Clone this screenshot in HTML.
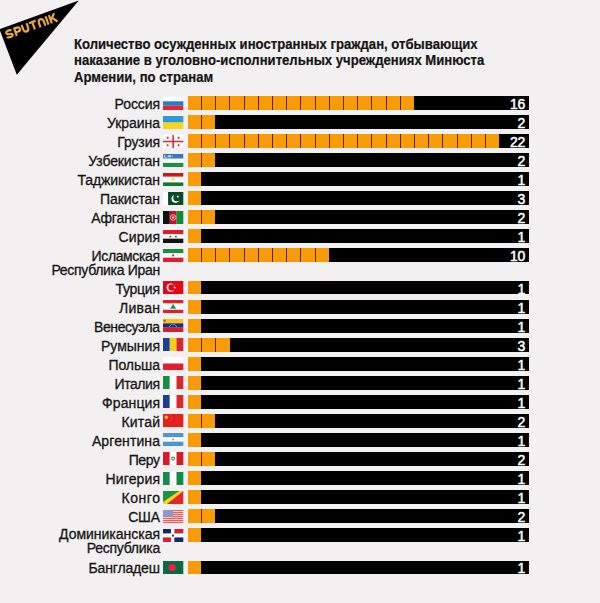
<!DOCTYPE html>
<html><head><meta charset="utf-8"><style>
*{margin:0;padding:0;box-sizing:border-box}
html,body{width:600px;height:603px;overflow:hidden;background:#f2f0f1;font-family:"Liberation Sans",sans-serif}
.logo{position:absolute;left:0;top:0}
.title{position:absolute;left:74px;top:35.6px;-webkit-text-stroke:0.2px #151515;font-weight:bold;font-size:14px;line-height:16.5px;color:#151515;transform:scaleX(0.937);transform-origin:0 0;white-space:nowrap}
.row{position:absolute;left:0;width:600px;height:14px}
.lab{position:absolute;right:440px;top:0.7px;font-size:14px;line-height:14px;text-align:right;color:#151515;white-space:nowrap;-webkit-text-stroke:0.3px #151515}
.flag{position:absolute;left:163.4px;top:0.5px;width:20.3px;height:13px}
.flag svg{display:block}
.bar{position:absolute;left:188px;top:0;width:341px;height:13.6px;background:#000}
.or{position:absolute;left:0;top:0;height:100%;background:#f89b06}
.or i{position:absolute;top:0;width:1.2px;height:100%;background:#5e2600}
.num{position:absolute;right:3.9px;top:0.9px;color:#fff;font-size:14px;line-height:15px;-webkit-text-stroke:0.5px #fff;letter-spacing:-0.2px}
</style></head><body>
<svg class="logo" width="90" height="80" viewBox="0 0 90 80"><polygon points="0,29 78.8,0.6 16.8,74.8 0,30.8" fill="#000"/>
<g transform="translate(7.4 39.2) rotate(-19.5) scale(1.1 1.16)" fill="none" stroke="#eaa93e" stroke-width="1.95" stroke-linecap="butt" stroke-linejoin="miter">
<path d="M6.0,-5.7 C5.6,-6.5 4.6,-6.75 3.3,-6.75 C1.8,-6.75 0.9,-6.1 0.9,-5.0 C0.9,-2.9 5.9,-4.3 5.9,-2.3 C5.9,-1.2 4.9,-0.85 3.3,-0.85 C2.0,-0.85 1.0,-1.1 0.5,-2.0"/>
<path transform="translate(8.2 0)" d="M0.85,0 V-6.75 H3.4 C5.0,-6.75 5.7,-6.0 5.7,-4.9 C5.7,-3.8 5.0,-3.1 3.4,-3.1 H0.85"/>
<path transform="translate(15.7 0)" d="M0.85,-7.6 V-3.3 C0.85,-1.6 1.7,-0.85 3.2,-0.85 C4.7,-0.85 5.55,-1.6 5.55,-3.3 V-7.6"/>
<path transform="translate(23.3 0)" d="M0,-6.75 H6.4 M3.2,-6.75 V0"/>
<path transform="translate(31.1 0)" d="M0.85,0 V-4 C0.85,-5.8 1.9,-6.75 3.2,-6.75 C4.5,-6.75 5.55,-5.8 5.55,-4 V0"/>
<path transform="translate(38.8 0)" d="M0.85,-7.6 V0"/>
<path transform="translate(42.0 0)" d="M0.85,-7.6 V0 M5.9,-7.6 L1.2,-3.3 M2.7,-4.6 L6.3,0"/>
</g></svg>
<div class="title">Количество осужденных иностранных граждан, отбывающих<br>наказание в уголовно-исполнительных учреждениях Минюста<br>Армении, по странам</div>
<div class="row" style="top:96.00px"><div class="lab"><span style="letter-spacing:-0.100px;position:relative;left:-0.100px">Россия</span></div><div class="flag"><svg width="20.3" height="13" viewBox="0 0 20 13" preserveAspectRatio="none"><rect x="0" y="0.000" width="20" height="4.353" fill="#ffffff"/><rect x="0" y="4.333" width="20" height="4.353" fill="#1f7fcf"/><rect x="0" y="8.667" width="20" height="4.353" fill="#e3262b"/></svg></div><div class="bar"><div class="or" style="width:226.20px"><i style="left:12.90px"></i><i style="left:27.10px"></i><i style="left:41.30px"></i><i style="left:55.50px"></i><i style="left:69.70px"></i><i style="left:83.90px"></i><i style="left:98.10px"></i><i style="left:112.30px"></i><i style="left:126.50px"></i><i style="left:140.70px"></i><i style="left:154.90px"></i><i style="left:169.10px"></i><i style="left:183.30px"></i><i style="left:197.50px"></i><i style="left:211.70px"></i></div><span class="num">16</span></div></div>
<div class="row" style="top:115.06px"><div class="lab"><span style="letter-spacing:-0.043px;position:relative;left:-0.043px">Украина</span></div><div class="flag"><svg width="20.3" height="13" viewBox="0 0 20 13" preserveAspectRatio="none"><rect x="0" y="0.000" width="20" height="6.520" fill="#2a9ad9"/><rect x="0" y="6.500" width="20" height="6.520" fill="#f5d61c"/></svg></div><div class="bar"><div class="or" style="width:27.40px"><i style="left:12.90px"></i></div><span class="num">2</span></div></div>
<div class="row" style="top:134.12px"><div class="lab"><span style="letter-spacing:-0.100px;position:relative;left:-0.100px">Грузия</span></div><div class="flag"><svg width="20.3" height="13" viewBox="0 0 20 13" preserveAspectRatio="none"><rect width="20" height="13" fill="#fff"/><rect x="9.25" y="0" width="1.5" height="13" fill="#e0202a"/><rect x="0" y="5.75" width="20" height="1.5" fill="#e0202a"/><rect x="3.4999999999999996" y="2.3499999999999996" width="2.2" height="0.9" fill="#e0202a"/><rect x="4.1499999999999995" y="1.6999999999999997" width="0.9" height="2.2" fill="#e0202a"/><rect x="14.3" y="2.3499999999999996" width="2.2" height="0.9" fill="#e0202a"/><rect x="14.950000000000001" y="1.6999999999999997" width="0.9" height="2.2" fill="#e0202a"/><rect x="3.4999999999999996" y="9.75" width="2.2" height="0.9" fill="#e0202a"/><rect x="4.1499999999999995" y="9.1" width="0.9" height="2.2" fill="#e0202a"/><rect x="14.3" y="9.75" width="2.2" height="0.9" fill="#e0202a"/><rect x="14.950000000000001" y="9.1" width="0.9" height="2.2" fill="#e0202a"/></svg></div><div class="bar"><div class="or" style="width:311.40px"><i style="left:12.90px"></i><i style="left:27.10px"></i><i style="left:41.30px"></i><i style="left:55.50px"></i><i style="left:69.70px"></i><i style="left:83.90px"></i><i style="left:98.10px"></i><i style="left:112.30px"></i><i style="left:126.50px"></i><i style="left:140.70px"></i><i style="left:154.90px"></i><i style="left:169.10px"></i><i style="left:183.30px"></i><i style="left:197.50px"></i><i style="left:211.70px"></i><i style="left:225.90px"></i><i style="left:240.10px"></i><i style="left:254.30px"></i><i style="left:268.50px"></i><i style="left:282.70px"></i><i style="left:296.90px"></i></div><span class="num">22</span></div></div>
<div class="row" style="top:153.18px"><div class="lab"><span style="letter-spacing:-0.110px;position:relative;left:-0.110px">Узбекистан</span></div><div class="flag"><svg width="20.3" height="13" viewBox="0 0 20 13" preserveAspectRatio="none"><rect width="20" height="13" fill="#fafafa"/><rect width="20" height="4.5" fill="#3a78bf"/><rect y="8.9" width="20" height="4.1" fill="#1b8f45"/><circle cx="2.6" cy="2.25" r="1.5" fill="#fff"/><circle cx="3.2" cy="2.1" r="1.3" fill="#3a78bf"/><rect x="4.6" y="1.2" width="3.2" height="2.2" fill="#b8d0ea"/><rect x="8" y="1.5" width="2" height="1.6" fill="#7aa6d6"/></svg></div><div class="bar"><div class="or" style="width:27.40px"><i style="left:12.90px"></i></div><span class="num">2</span></div></div>
<div class="row" style="top:172.24px"><div class="lab"><span style="letter-spacing:-0.136px;position:relative;left:-0.136px">Таджикистан</span></div><div class="flag"><svg width="20.3" height="13" viewBox="0 0 20 13" preserveAspectRatio="none"><rect width="20" height="13" fill="#fff"/><rect width="20" height="3.6" fill="#cc1a1a"/><rect y="9.4" width="20" height="3.6" fill="#117a2a"/><rect x="8.5" y="5.6" width="3" height="1.5" fill="#f5c400"/></svg></div><div class="bar"><div class="or" style="width:13.20px"></div><span class="num">1</span></div></div>
<div class="row" style="top:191.30px"><div class="lab"><span style="letter-spacing:-0.087px;position:relative;left:-0.087px">Пакистан</span></div><div class="flag"><svg width="20.3" height="13" viewBox="0 0 20 13" preserveAspectRatio="none"><rect width="20" height="13" fill="#fff"/><rect x="5" width="15" height="13" fill="#0b4a26"/><circle cx="12.3" cy="6.8" r="3.9" fill="#fff"/><circle cx="13.6" cy="5.8" r="3.5" fill="#0b4a26"/><polygon points="14.60,3.10 14.95,4.11 16.03,4.14 15.17,4.79 15.48,5.81 14.60,5.20 13.72,5.81 14.03,4.79 13.17,4.14 14.25,4.11" fill="#fff"/></svg></div><div class="bar"><div class="or" style="width:13.20px"></div><span class="num">3</span></div></div>
<div class="row" style="top:210.36px"><div class="lab"><span style="letter-spacing:-0.156px;position:relative;left:-0.156px">Афганстан</span></div><div class="flag"><svg width="20.3" height="13" viewBox="0 0 20 13" preserveAspectRatio="none"><rect x="0.000" y="0" width="6.687" height="13" fill="#111111"/><rect x="6.667" y="0" width="6.687" height="13" fill="#c8102e"/><rect x="13.333" y="0" width="6.687" height="13" fill="#138a36"/><circle cx="10" cy="6.5" r="2.8" fill="none" stroke="#f0d0c0" stroke-width="0.8"/><rect x="8.8" y="5.3" width="2.4" height="2.4" fill="#e9b0a0"/></svg></div><div class="bar"><div class="or" style="width:27.40px"><i style="left:12.90px"></i></div><span class="num">2</span></div></div>
<div class="row" style="top:229.42px"><div class="lab"><span style="letter-spacing:0.080px;position:relative;left:0.080px">Сирия</span></div><div class="flag"><svg width="20.3" height="13" viewBox="0 0 20 13" preserveAspectRatio="none"><rect x="0" y="0.000" width="20" height="4.353" fill="#d8202a"/><rect x="0" y="4.333" width="20" height="4.353" fill="#ffffff"/><rect x="0" y="8.667" width="20" height="4.353" fill="#111111"/><polygon points="7.30,4.90 7.68,5.98 8.82,6.01 7.91,6.70 8.24,7.79 7.30,7.14 6.36,7.79 6.69,6.70 5.78,6.01 6.92,5.98" fill="#168a3a"/><polygon points="12.70,4.90 13.08,5.98 14.22,6.01 13.31,6.70 13.64,7.79 12.70,7.14 11.76,7.79 12.09,6.70 11.18,6.01 12.32,5.98" fill="#168a3a"/></svg></div><div class="bar"><div class="or" style="width:13.20px"></div><span class="num">1</span></div></div>
<div class="row" style="top:248.48px"><div class="lab"><span style="letter-spacing:-0.378px;position:relative;left:-0.378px">Исламская</span><br><span style="letter-spacing:-0.3px">Республика Иран</span></div><div class="flag"><svg width="20.3" height="13" viewBox="0 0 20 13" preserveAspectRatio="none"><rect x="0" y="0.000" width="20" height="4.353" fill="#1a8f3e"/><rect x="0" y="4.333" width="20" height="4.353" fill="#ffffff"/><rect x="0" y="8.667" width="20" height="4.353" fill="#da2032"/><circle cx="10" cy="6.4" r="1.1" fill="#da2032"/></svg></div><div class="bar"><div class="or" style="width:141.00px"><i style="left:12.90px"></i><i style="left:27.10px"></i><i style="left:41.30px"></i><i style="left:55.50px"></i><i style="left:69.70px"></i><i style="left:83.90px"></i><i style="left:98.10px"></i><i style="left:112.30px"></i><i style="left:126.50px"></i></div><span class="num">10</span></div></div>
<div class="row" style="top:280.90px"><div class="lab"><span style="letter-spacing:-0.267px;position:relative;left:-0.267px">Турция</span></div><div class="flag"><svg width="20.3" height="13" viewBox="0 0 20 13" preserveAspectRatio="none"><rect width="20" height="13" fill="#e30a17"/><circle cx="7.6" cy="6.5" r="4.1" fill="#fff"/><circle cx="8.6" cy="6.5" r="3.3" fill="#e30a17"/><polygon points="11.60,5.00 11.95,6.01 13.03,6.04 12.17,6.69 12.48,7.71 11.60,7.10 10.72,7.71 11.03,6.69 10.17,6.04 11.25,6.01" fill="#fff"/></svg></div><div class="bar"><div class="or" style="width:13.20px"></div><span class="num">1</span></div></div>
<div class="row" style="top:299.91px"><div class="lab"><span style="letter-spacing:0.280px;position:relative;left:0.280px">Ливан</span></div><div class="flag"><svg width="20.3" height="13" viewBox="0 0 20 13" preserveAspectRatio="none"><rect width="20" height="13" fill="#fff"/><rect width="20" height="3.25" fill="#e0202a"/><rect y="9.75" width="20" height="3.25" fill="#e0202a"/><polygon points="10,3.8 13,8.8 7,8.8" fill="#1a9a3a"/></svg></div><div class="bar"><div class="or" style="width:13.20px"></div><span class="num">1</span></div></div>
<div class="row" style="top:318.92px"><div class="lab"><span style="letter-spacing:-0.411px;position:relative;left:-0.411px">Венесуэла</span></div><div class="flag"><svg width="20.3" height="13" viewBox="0 0 20 13" preserveAspectRatio="none"><rect x="0" y="0.000" width="20" height="4.353" fill="#f5c518"/><rect x="0" y="4.333" width="20" height="4.353" fill="#1a2b8c"/><rect x="0" y="8.667" width="20" height="4.353" fill="#d8202a"/><circle cx="6.5" cy="7.3" r="0.45" fill="#fff"/><circle cx="7.5" cy="6.3" r="0.45" fill="#fff"/><circle cx="8.7" cy="5.6" r="0.45" fill="#fff"/><circle cx="10" cy="5.3" r="0.45" fill="#fff"/><circle cx="11.3" cy="5.6" r="0.45" fill="#fff"/><circle cx="12.5" cy="6.3" r="0.45" fill="#fff"/><circle cx="13.5" cy="7.3" r="0.45" fill="#fff"/><rect x="0.6" y="0.6" width="2" height="2" fill="#8a5020"/></svg></div><div class="bar"><div class="or" style="width:13.20px"></div><span class="num">1</span></div></div>
<div class="row" style="top:337.93px"><div class="lab"><span style="letter-spacing:0.000px;position:relative;left:0.000px">Румыния</span></div><div class="flag"><svg width="20.3" height="13" viewBox="0 0 20 13" preserveAspectRatio="none"><rect x="0.000" y="0" width="6.687" height="13" fill="#1c3f94"/><rect x="6.667" y="0" width="6.687" height="13" fill="#f5d116"/><rect x="13.333" y="0" width="6.687" height="13" fill="#d92630"/></svg></div><div class="bar"><div class="or" style="width:41.60px"><i style="left:12.90px"></i><i style="left:27.10px"></i></div><span class="num">3</span></div></div>
<div class="row" style="top:356.94px"><div class="lab"><span style="letter-spacing:-0.117px;position:relative;left:-0.117px">Польша</span></div><div class="flag"><svg width="20.3" height="13" viewBox="0 0 20 13" preserveAspectRatio="none"><rect x="0" y="0.000" width="20" height="6.520" fill="#ffffff"/><rect x="0" y="6.500" width="20" height="6.520" fill="#e0202e"/></svg></div><div class="bar"><div class="or" style="width:13.20px"></div><span class="num">1</span></div></div>
<div class="row" style="top:375.95px"><div class="lab"><span style="letter-spacing:-0.433px;position:relative;left:-0.433px">Италия</span></div><div class="flag"><svg width="20.3" height="13" viewBox="0 0 20 13" preserveAspectRatio="none"><rect x="0.000" y="0" width="6.687" height="13" fill="#168c45"/><rect x="6.667" y="0" width="6.687" height="13" fill="#ffffff"/><rect x="13.333" y="0" width="6.687" height="13" fill="#d92630"/></svg></div><div class="bar"><div class="or" style="width:13.20px"></div><span class="num">1</span></div></div>
<div class="row" style="top:394.96px"><div class="lab"><span style="letter-spacing:0.086px;position:relative;left:0.086px">Франция</span></div><div class="flag"><svg width="20.3" height="13" viewBox="0 0 20 13" preserveAspectRatio="none"><rect x="0.000" y="0" width="6.687" height="13" fill="#1f3d8f"/><rect x="6.667" y="0" width="6.687" height="13" fill="#ffffff"/><rect x="13.333" y="0" width="6.687" height="13" fill="#e02630"/></svg></div><div class="bar"><div class="or" style="width:13.20px"></div><span class="num">1</span></div></div>
<div class="row" style="top:413.97px"><div class="lab"><span style="letter-spacing:0.140px;position:relative;left:0.140px">Китай</span></div><div class="flag"><svg width="20.3" height="13" viewBox="0 0 20 13" preserveAspectRatio="none"><rect width="20" height="13" fill="#e3201e"/><circle cx="3.3" cy="3.2" r="1.7" fill="#f5a840"/><polygon points="3.30,1.00 3.82,2.49 5.39,2.52 4.14,3.47 4.59,4.98 3.30,4.08 2.01,4.98 2.46,3.47 1.21,2.52 2.78,2.49" fill="#f8c030"/><polygon points="7.20,1.10 7.36,1.57 7.87,1.58 7.47,1.89 7.61,2.37 7.20,2.08 6.79,2.37 6.93,1.89 6.53,1.58 7.04,1.57" fill="#f07030"/><polygon points="8.30,2.70 8.46,3.17 8.97,3.18 8.57,3.49 8.71,3.97 8.30,3.68 7.89,3.97 8.03,3.49 7.63,3.18 8.14,3.17" fill="#f07030"/><polygon points="8.30,4.50 8.46,4.97 8.97,4.98 8.57,5.29 8.71,5.77 8.30,5.48 7.89,5.77 8.03,5.29 7.63,4.98 8.14,4.97" fill="#f07030"/><polygon points="7.20,5.90 7.36,6.37 7.87,6.38 7.47,6.69 7.61,7.17 7.20,6.88 6.79,7.17 6.93,6.69 6.53,6.38 7.04,6.37" fill="#f07030"/></svg></div><div class="bar"><div class="or" style="width:27.40px"><i style="left:12.90px"></i></div><span class="num">2</span></div></div>
<div class="row" style="top:432.98px"><div class="lab"><span style="letter-spacing:0.111px;position:relative;left:0.111px">Аргентина</span></div><div class="flag"><svg width="20.3" height="13" viewBox="0 0 20 13" preserveAspectRatio="none"><rect x="0" y="0.000" width="20" height="4.353" fill="#4f93d0"/><rect x="0" y="4.333" width="20" height="4.353" fill="#ffffff"/><rect x="0" y="8.667" width="20" height="4.353" fill="#4f93d0"/><circle cx="10" cy="6.5" r="1.1" fill="#d8a020"/></svg></div><div class="bar"><div class="or" style="width:13.20px"></div><span class="num">1</span></div></div>
<div class="row" style="top:451.99px"><div class="lab"><span style="letter-spacing:-0.375px;position:relative;left:-0.375px">Перу</span></div><div class="flag"><svg width="20.3" height="13" viewBox="0 0 20 13" preserveAspectRatio="none"><rect x="0.000" y="0" width="6.687" height="13" fill="#d91a2a"/><rect x="6.667" y="0" width="6.687" height="13" fill="#ffffff"/><rect x="13.333" y="0" width="6.687" height="13" fill="#d91a2a"/><circle cx="10" cy="6.6" r="1.5" fill="none" stroke="#4f9060" stroke-width="1.1"/></svg></div><div class="bar"><div class="or" style="width:27.40px"><i style="left:12.90px"></i></div><span class="num">2</span></div></div>
<div class="row" style="top:471.00px"><div class="lab"><span style="letter-spacing:0.129px;position:relative;left:0.129px">Нигерия</span></div><div class="flag"><svg width="20.3" height="13" viewBox="0 0 20 13" preserveAspectRatio="none"><rect x="0.000" y="0" width="6.687" height="13" fill="#138a4e"/><rect x="6.667" y="0" width="6.687" height="13" fill="#ffffff"/><rect x="13.333" y="0" width="6.687" height="13" fill="#138a4e"/></svg></div><div class="bar"><div class="or" style="width:13.20px"></div><span class="num">1</span></div></div>
<div class="row" style="top:490.01px"><div class="lab"><span style="letter-spacing:0.580px;position:relative;left:0.580px">Конго</span></div><div class="flag"><svg width="20.3" height="13" viewBox="0 0 20 13" preserveAspectRatio="none"><rect width="20" height="13" fill="#e02a24"/><polygon points="0,0 16,0 0,11" fill="#1a9648"/><polygon points="16,0 20,0 4,13 0,13 0,11" fill="#f7d51d"/></svg></div><div class="bar"><div class="or" style="width:13.20px"></div><span class="num">1</span></div></div>
<div class="row" style="top:509.02px"><div class="lab"><span style="letter-spacing:-0.267px;position:relative;left:-0.267px">США</span></div><div class="flag"><svg width="20.3" height="13" viewBox="0 0 20 13" preserveAspectRatio="none"><rect y="0.000" width="20" height="1.02" fill="#e85a5a"/><rect y="1.000" width="20" height="1.02" fill="#f8d0d0"/><rect y="2.000" width="20" height="1.02" fill="#e85a5a"/><rect y="3.000" width="20" height="1.02" fill="#f8d0d0"/><rect y="4.000" width="20" height="1.02" fill="#e85a5a"/><rect y="5.000" width="20" height="1.02" fill="#f8d0d0"/><rect y="6.000" width="20" height="1.02" fill="#e85a5a"/><rect y="7.000" width="20" height="1.02" fill="#f8d0d0"/><rect y="8.000" width="20" height="1.02" fill="#e85a5a"/><rect y="9.000" width="20" height="1.02" fill="#f8d0d0"/><rect y="10.000" width="20" height="1.02" fill="#e85a5a"/><rect y="11.000" width="20" height="1.02" fill="#f8d0d0"/><rect y="12.000" width="20" height="1.02" fill="#e85a5a"/><rect width="10" height="6.6" fill="#8a9ad0"/></svg></div><div class="bar"><div class="or" style="width:27.40px"><i style="left:12.90px"></i></div><span class="num">2</span></div></div>
<div class="row" style="top:528.03px"><div class="lab" style="top:-0.6px"><span style="letter-spacing:-0.015px;position:relative;left:-0.015px">Доминиканская</span><br><span style="letter-spacing:-0.27px">Республика</span></div><div class="flag"><svg width="20.3" height="13" viewBox="0 0 20 13" preserveAspectRatio="none"><rect width="20" height="13" fill="#fff"/><rect width="7.8" height="4.4" fill="#15296a"/><rect x="11.2" width="8.8" height="4.4" fill="#d0203a"/><rect y="8.4" width="7.8" height="4.6" fill="#d0203a"/><rect x="11.2" y="8.4" width="8.8" height="4.6" fill="#15296a"/><rect x="8.8" y="5.6" width="2" height="2" fill="#334"/></svg></div><div class="bar"><div class="or" style="width:13.20px"></div><span class="num">1</span></div></div>
<div class="row" style="top:560.50px"><div class="lab"><span style="letter-spacing:-0.144px;position:relative;left:-0.144px">Бангладеш</span></div><div class="flag"><svg width="20.3" height="13" viewBox="0 0 20 13" preserveAspectRatio="none"><rect width="20" height="13" fill="#0a6a48"/><circle cx="9" cy="6.5" r="3.6" fill="#f0203e"/></svg></div><div class="bar"><div class="or" style="width:13.20px"></div><span class="num">1</span></div></div>
</body></html>
